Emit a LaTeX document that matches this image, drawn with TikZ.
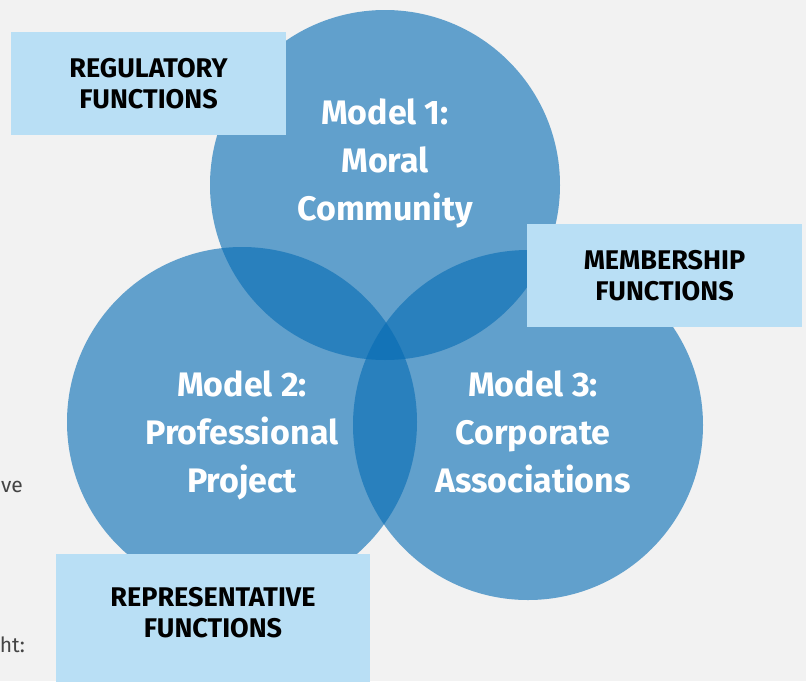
\documentclass[tikz,border=0pt]{standalone}
\usepackage{fontspec}
\setmainfont{Fira Sans}
\usepackage{tikz}
\usetikzlibrary{positioning}
\definecolor{bgray}{HTML}{F2F2F2}
\definecolor{modelblue}{RGB}{6,108,180}
\definecolor{boxblue}{HTML}{B9DFF5}
\definecolor{sidegray}{HTML}{444444}
\tikzset{
    model/.style={circle,fill=modelblue,fill opacity=0.61,minimum size=350pt,inner sep=0pt},
    modeltext/.style={align=center,text=white,font=\fontsize{34}{48}\selectfont\bfseries},
    fnbox/.style={fill=boxblue,align=center,minimum width=275pt,minimum height=103pt,inner sep=0pt,
        font=\fontsize{27}{31}\selectfont\bfseries},
    sidetext/.style={anchor=east,text=sidegray,font=\fontsize{21}{24}\selectfont,inner sep=0pt}
}
\begin{document}
\begin{tikzpicture}[x=1pt,y=-1pt]
        \useasboundingbox (0,0) rectangle (806,681);
        \clip (0,0) rectangle (806,681);
        \fill[bgray] (0,0) rectangle (806,681);

        % cut-off words of the page text
        \node[sidetext] (side1) at (23,487) {ve};
        \node[sidetext] (side2) at (25,645) {ht:};

        \node[model] (m1) at (385,185) {};
        \node[model] (m2) at (242,422) {};
        \node[model] (m3) at (528,425) {};

        \node[modeltext] (t1) at ([yshift=22pt]m1.center) {Model 1:\\Moral\\Community};
        \node[modeltext] (t2) at ([yshift=-13pt]m2.center) {Model 2:\\Professional\\Project};
        \node[modeltext] (t3) at ([xshift=5pt,yshift=-7pt]m3.center) {Model 3:\\Corporate\\Associations};

        \node[fnbox] (reg) at (148.5,83.5) {REGULATORY\\FUNCTIONS};
        \node[fnbox] (mem) at (664.5,275.5) {MEMBERSHIP\\FUNCTIONS};
        \node[fnbox,anchor=north,minimum width=314pt,minimum height=0pt,text height=83pt,text depth=60pt]
            (rep) at (213,554) {REPRESENTATIVE\\FUNCTIONS};
\end{tikzpicture}
\end{document}
